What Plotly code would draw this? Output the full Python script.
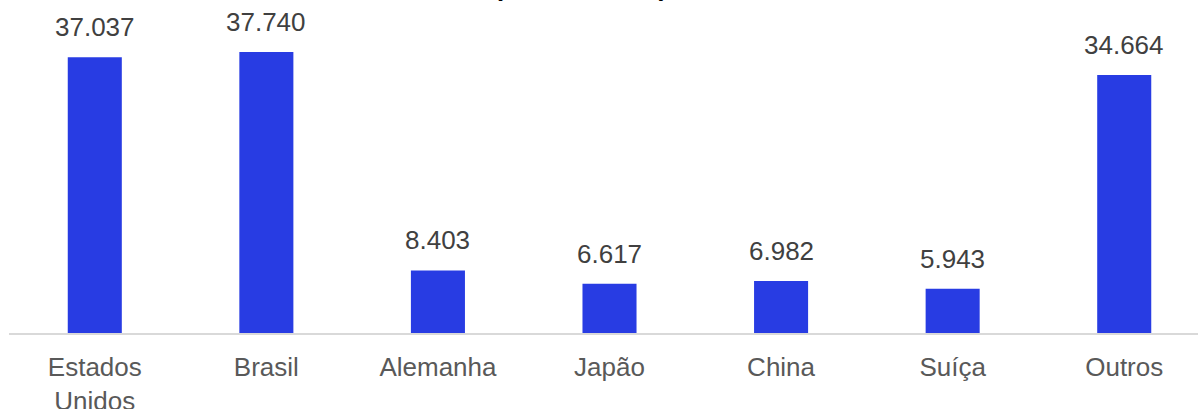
import plotly.graph_objects as go

categories = ["Estados<br>Unidos", "Brasil", "Alemanha", "Japão", "China", "Suíça", "Outros"]
values = [37037, 37740, 8403, 6617, 6982, 5943, 34664]
labels = ["37.037", "37.740", "8.403", "6.617", "6.982", "5.943", "34.664"]
title_text = "(US$ milhões)"

fig = go.Figure(go.Bar(
    x=categories, y=values,
    marker=dict(color="#283ce3", line=dict(width=0)),
    width=0.315, cliponaxis=False,
))
for c, v, t in zip(categories, values, labels):
    fig.add_annotation(x=c, y=v, text=t, showarrow=False, yanchor="middle", yshift=30,
                       font=dict(family="Liberation Sans, Arial", size=26, color="#404040"))
fig.add_annotation(text="<b>" + title_text + "</b>", xref="paper", yref="paper",
                   x=0.481, y=1, yanchor="bottom", yshift=-4, showarrow=False,
                   font=dict(family="Liberation Sans, Arial", size=26, color="#000000"))
fig.update_layout(
    width=1198, height=409, margin=dict(l=9, r=0, t=0, b=76, autoexpand=False),
    plot_bgcolor="white", paper_bgcolor="white", showlegend=False,
    font=dict(family="Liberation Sans, Arial", size=26, color="#595959"),
)
fig.update_xaxes(range=[-0.5, 6.43], showline=True, linecolor="#d9d9d9", linewidth=2,
                 ticks="outside", ticklen=10, tickcolor="rgba(0,0,0,0)", automargin=False,
                 tickfont=dict(size=26, color="#595959"), showgrid=False)
fig.update_yaxes(range=[0, 44722], visible=False, showgrid=False, automargin=False)
fig.write_html("out.html", config={"displayModeBar": False},
               post_script="document.body.style.margin='0';document.body.style.overflow='hidden';")
